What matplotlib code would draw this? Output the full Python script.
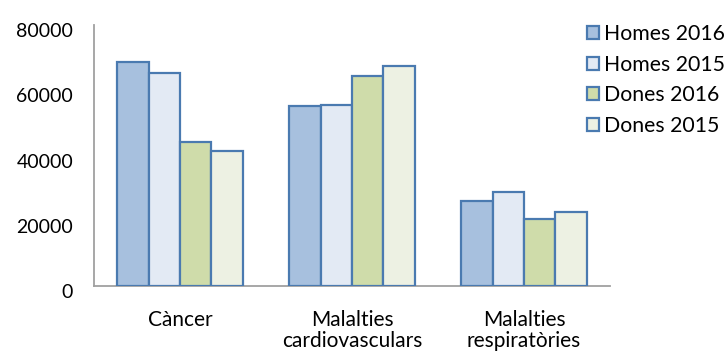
import matplotlib
matplotlib.use("Agg")
import matplotlib.pyplot as plt
import matplotlib.transforms as mtransforms
import numpy as np

categories = ["Càncer", "Malalties\ncardiovasculars", "Malalties\nrespiratòries"]
series_names = ["Homes 2016", "Homes 2015", "Dones 2016", "Dones 2015"]
homes_2016 = [68700, 55200, 26100]
homes_2015 = [65300, 55600, 28800]
dones_2016 = [44100, 64400, 20400]
dones_2015 = [41400, 67400, 22800]
yticks = [0, 20000, 40000, 60000, 80000]

series = [homes_2016, homes_2015, dones_2016, dones_2015]
fills = ["#a7c0de", "#e3eaf4", "#cfdcaa", "#edf1e3"]
edge = "#4a7ab0"

plt.rcParams['font.family'] = ['Lato', 'DejaVu Sans']

fig = plt.figure(figsize=(7.25, 3.51), dpi=100)
ax = fig.add_axes([94/725, 1-286/351, (610-94)/725, (286-25)/351])

x = np.arange(len(categories))
n = len(series)
gw = 0.73
bw = gw / n
for i, (vals, fc, name) in enumerate(zip(series, fills, series_names)):
    ax.bar(x - gw/2 + bw*(i+0.5), vals, width=bw, color=fc, edgecolor=edge,
           linewidth=1.6, label=name, zorder=3)

ax.set_xlim(-0.5, len(categories)-0.5)
ax.set_ylim(0, 80000)
ax.set_yticks(yticks)
ax.set_yticklabels([str(v) for v in yticks])
ax.set_xticks(x)
ax.set_xticklabels(categories, linespacing=1.1)
ax.tick_params(axis='both', length=0, colors='black')
ax.tick_params(axis='y', pad=15, labelsize=14)
ax.tick_params(axis='x', pad=17, labelsize=15)
off = mtransforms.ScaledTranslation(0, -5/100, fig.dpi_scale_trans)
for lbl in ax.get_yticklabels():
    lbl.set_transform(lbl.get_transform() + off)
for s in ['top', 'right']:
    ax.spines[s].set_visible(False)
for s in ['left', 'bottom']:
    ax.spines[s].set_color('#a0a0a0')
    ax.spines[s].set_linewidth(1.3)

leg = fig.legend(loc='upper left', bbox_to_anchor=(587/725, 1-24/351), frameon=False,
                 fontsize=15.3, handlelength=0.55, handleheight=0.55, handletextpad=0.25,
                 labelspacing=0.5, borderaxespad=0, borderpad=0)

fig.savefig("out.png", dpi=100)
